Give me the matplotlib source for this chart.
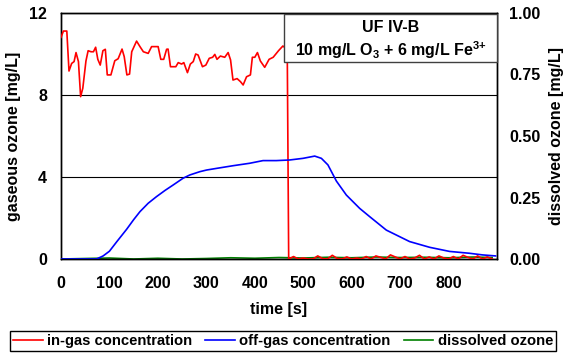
import numpy as np
import matplotlib.pyplot as plt
from matplotlib.patches import Rectangle

plt.rcParams['font.family'] = ['Liberation Sans', 'DejaVu Sans']
plt.rcParams['font.weight'] = 'bold'
plt.rcParams['axes.labelweight'] = 'bold'
plt.rcParams['font.size'] = 11.5
plt.rcParams['mathtext.fontset'] = 'custom'
plt.rcParams['mathtext.rm'] = 'Liberation Sans:bold'
plt.rcParams['mathtext.bf'] = 'Liberation Sans:bold'
plt.rcParams['mathtext.default'] = 'bf'

# in-gas ozone (left axis, mg/L)
t_in = [0, 5, 12, 16.5, 22, 27, 31, 36, 40.5, 45, 51.5, 56, 62, 67, 71.5, 76, 81, 86.5,
        91.5, 95.5, 103, 111, 118, 126, 130.5, 136, 141.5, 146, 156, 163, 170, 180, 187,
        200.5, 206, 212, 218, 221, 226, 237, 242, 249, 253.5, 261, 267, 273, 278, 283,
        292, 299, 306, 313, 317.5, 322, 329, 338, 345, 350, 355, 363.5, 370.5, 376, 383,
        391, 395, 400, 405.5, 411.5, 420.5, 429.5, 438, 449, 458, 464, 467, 470,
        480, 490, 500, 510, 520, 530, 540, 550, 560, 570, 580, 590, 600, 610, 620, 630,
        640, 650, 660, 670, 680, 690, 700, 710, 720, 730, 740, 750, 760, 770, 780, 790,
        800, 810, 820, 830, 840, 850, 860, 870, 880, 890]
in_gas = [10.81, 11.12, 11.12, 9.17, 9.54, 9.63, 10.07, 9.63, 7.92, 8.33, 9.66, 10.16,
          10.11, 10.11, 10.33, 9.74, 9.46, 10.16, 10.23, 8.98, 8.98, 9.67, 9.77, 10.24,
          9.87, 8.98, 9.02, 10.11, 10.63, 10.36, 10.11, 10.03, 10.36, 10.36, 9.74, 9.74,
          10.23, 10.24, 9.38, 9.38, 9.58, 9.51, 9.58, 9.09, 9.51, 9.63, 10.0, 9.95, 9.38,
          9.46, 9.79, 9.84, 9.98, 9.74, 9.90, 9.84, 10.07, 9.71, 8.73, 8.80, 8.65, 8.49,
          8.89, 8.98, 9.84, 9.84, 10.07, 9.66, 9.35, 9.74, 9.84, 10.16, 10.39, 10.28,
          10.25, 0.0,
          0.12, 0.0, 0.05, 0.0, 0.0, 0.15, 0.02, 0.0, 0.18, 0.03, 0.0, 0.1, 0.0, 0.05,
          0.0, 0.12, 0.0, 0.15, 0.08, 0.0, 0.2, 0.1, 0.0, 0.12, 0.0, 0.05, 0.18, 0.0,
          0.1, 0.0, 0.15, 0.05, 0.0, 0.12, 0.0, 0.18, 0.08, 0.0, 0.15, 0.0, 0.1, 0.0]

# off-gas ozone (left axis, mg/L)
t_off = [0, 50, 73.6, 87, 100, 115, 135.5, 150, 163, 180, 197, 215, 231.5, 252, 266,
         286.6, 300.5, 321, 355, 389.5, 417, 444.5, 472, 499.6, 523.7, 537.5, 551, 568.5,
         589, 616.5, 637, 671.5, 719.6, 761, 802, 843, 870, 897]
off_gas = [0.0, 0.0, 0.0, 0.15, 0.38, 0.84, 1.45, 1.92, 2.31, 2.72, 3.04, 3.35, 3.61,
           3.94, 4.10, 4.26, 4.34, 4.42, 4.55, 4.67, 4.80, 4.80, 4.83, 4.91, 5.02, 4.91,
           4.59, 3.80, 3.12, 2.47, 2.07, 1.41, 0.85, 0.57, 0.37, 0.28, 0.20, 0.15]

# dissolved ozone (right axis, mg/L)
t_dis = [0, 50, 100, 150, 200, 250, 300, 350, 400, 450, 500, 550, 600, 650, 700, 750,
         800, 850, 890]
dissolved = [0.0, 0.002, 0.004, 0.0, 0.003, 0.0, 0.002, 0.005, 0.003, 0.006, 0.004,
             0.007, 0.005, 0.008, 0.006, 0.007, 0.005, 0.008, 0.006]

fig = plt.figure(figsize=(5.66, 3.54), dpi=100)
ax = fig.add_axes([61 / 566, 1 - 259 / 354, 436 / 566, 246 / 354])
ax2 = ax.twinx()

ax2.plot(t_dis, dissolved, color='#008000', lw=1.2, label='dissolved ozone')
ax.plot(t_in, in_gas, color='#ff0000', lw=1.2, label='in-gas concentration', zorder=3)
ax.plot(t_off, off_gas, color='#0000ff', lw=1.2, label='off-gas concentration', zorder=3)

ax.set_xlim(0, 900)
ax.set_ylim(0, 12)
ax2.set_ylim(0, 1)
ax.set_xticks(range(0, 900, 100))
ax.set_yticks([0, 4, 8, 12])
ax2.set_yticks([0, 0.25, 0.5, 0.75, 1.0])
ax2.set_yticklabels(['0.00', '0.25', '0.50', '0.75', '1.00'])
ax.yaxis.grid(True, color='black', lw=0.8)
ax.tick_params(axis='x', length=0, pad=12)
ax.tick_params(axis='y', length=0, pad=10)
ax2.tick_params(axis='y', length=0, pad=9)
for a in (ax, ax2):
    for s in a.spines.values():
        s.set_linewidth(1.0)
        s.set_color('black')

ax.set_xlabel('time [s]', labelpad=8)
ax.set_ylabel('gaseous ozone [mg/L]', labelpad=6)
ax2.set_ylabel('dissolved ozone [mg/L]', labelpad=6)

ax2.set_zorder(0)
ax.set_zorder(1)
ax.patch.set_visible(False)

# condition box, flush with the top right corner
ax.add_patch(Rectangle((0.511, 0.80), 0.489, 0.196, transform=ax.transAxes,
                       fc='white', ec='#404040', lw=1.0, zorder=5, clip_on=False))
ax.text(0.756, 0.943, 'UF IV-B', transform=ax.transAxes,
        ha='center', va='center', zorder=6)
ax.text(0.756, 0.85, '10 mg/L O$_3$ + 6 mg/L Fe$^{3\\!+}$', transform=ax.transAxes,
        ha='center', va='center', zorder=6)

h1, l1 = ax.get_legend_handles_labels()
h2, l2 = ax2.get_legend_handles_labels()
fig.legend(h1 + h2, l1 + l2, loc='center', bbox_to_anchor=(283 / 566, 1 - 341 / 354),
           ncol=3, frameon=True, fancybox=False, edgecolor='black', framealpha=1,
           fontsize=10.6, handlelength=2.0, handletextpad=0.3, columnspacing=0.9,
           borderpad=0.2, borderaxespad=0)

fig.savefig('out.png', dpi=100)
